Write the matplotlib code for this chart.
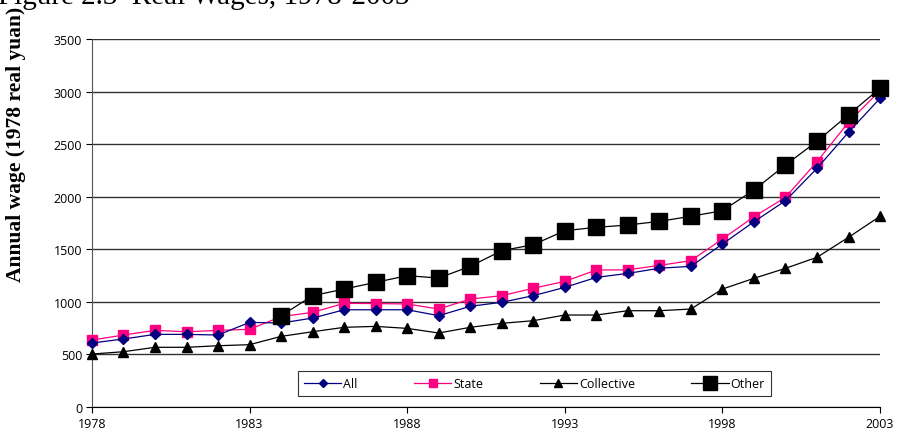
import matplotlib
matplotlib.use("Agg")
import matplotlib.pyplot as plt

# Salários reais (yuan de 1978)
anos = list(range(1978, 2004))
anos_outros = list(range(1984, 2004))

todos = [609, 647, 691, 691, 685, 805, 799, 846, 925, 925, 925, 869, 958,
         996, 1059, 1138, 1233, 1271, 1320, 1338, 1550, 1762, 1962, 2270,
         2613, 2936]
estatal = [637, 685, 729, 716, 729, 739, 860, 900, 986, 984, 980, 932, 1027,
           1059, 1129, 1195, 1303, 1305, 1347, 1392, 1598, 1810, 1994, 2333,
           2708, 3010]
coletivo = [504, 526, 568, 568, 583, 593, 672, 716, 758, 767, 748, 704, 758,
            796, 821, 875, 875, 916, 916, 932, 1122, 1224, 1319, 1424, 1614,
            1814]
outros = [868, 1059, 1122, 1186, 1249, 1227, 1338, 1487, 1544, 1677, 1709,
          1731, 1766, 1814, 1867, 2064, 2302, 2527, 2780, 3031]

fonte = "Open Sans"

fig = plt.figure(figsize=(8.99, 4.35), dpi=100)
ax = fig.add_axes([0.1023, 0.062, 0.8766, 0.846])

ax.plot(anos, todos, color="#000080", lw=0.9, marker="D", ms=5,
        label="All", clip_on=False, zorder=4)
ax.plot(anos, estatal, color="#FF0080", lw=0.9, marker="s", ms=7,
        label="State", clip_on=False, zorder=3)
ax.plot(anos, coletivo, color="black", lw=0.9, marker="^", ms=7,
        label="Collective", clip_on=False, zorder=5)
ax.plot(anos_outros, outros, color="black", lw=0.9, marker="s", ms=11.5,
        label="Other", clip_on=False, zorder=6)

ax.set_xlim(1978, 2003)
ax.set_ylim(0, 3500)
ax.set_xticks(range(1978, 2004, 5))
ax.set_yticks(range(0, 3501, 500))
ax.yaxis.grid(True, color="#333333", lw=1)
ax.set_axisbelow(True)

for lado in ["top", "right"]:
    ax.spines[lado].set_visible(False)
ax.spines["left"].set_color("#555555")
ax.spines["bottom"].set_color("black")
ax.tick_params(direction="out", length=4, width=0.8, labelsize=9, pad=3)
for t in ax.get_xticklabels() + ax.get_yticklabels():
    t.set_fontfamily(fonte)

leg = ax.legend(loc="lower center", bbox_to_anchor=(0.5615, 0.012), ncol=4,
                prop={"family": fonte, "size": 9},
                frameon=True, fancybox=False, edgecolor="black",
                handlelength=3.0, handletextpad=0.15, columnspacing=4.5,
                borderpad=0.5, markerscale=0.9)
leg.get_frame().set_linewidth(0.8)

fig.text(-0.002, 0.99, "Figure 2.3  Real Wages, 1978-2003",
         family="Liberation Serif", fontsize=21, va="baseline", ha="left")
fig.text(0.018, 0.668, "Annual wage (1978 real yuan)",
         family="Liberation Serif", fontsize=15.5, fontweight="bold",
         rotation=90, ha="center", va="center", zorder=10)

fig.savefig("out.png", dpi=100)
